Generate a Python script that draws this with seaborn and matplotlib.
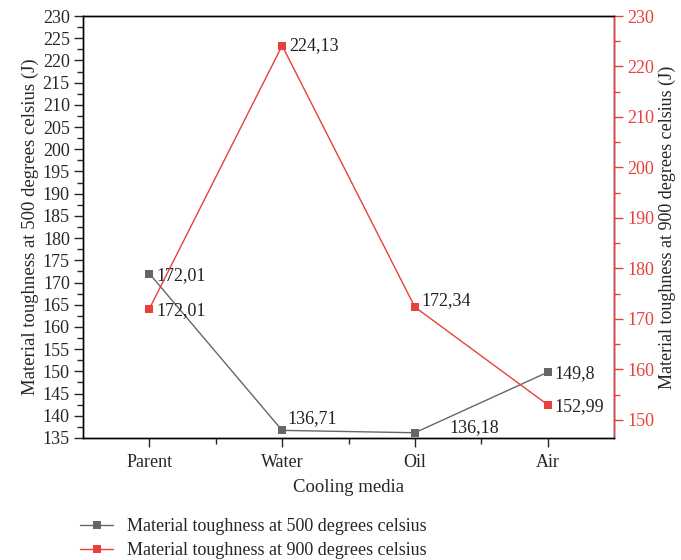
import matplotlib
matplotlib.use("Agg")
import matplotlib.pyplot as plt
import seaborn as sns
import pandas as pd
import numpy as np
from matplotlib.ticker import MultipleLocator, FixedLocator
from matplotlib.lines import Line2D

categories = ["Parent", "Water", "Oil", "Air"]
tough_500 = [172.01, 136.71, 136.18, 149.8]
tough_900 = [172.01, 224.13, 172.34, 152.99]
labels_500 = ["172,01", "136,71", "136,18", "149,8"]
labels_900 = ["172,01", "224,13", "172,34", "152,99"]

sns.set_style("ticks")
plt.rcParams["font.family"] = ["Liberation Serif", "DejaVu Serif"]
plt.rcParams["font.size"] = 13

GREY = "#666666"
RED = "#e8403a"
FS = 13

df = pd.DataFrame({"x": np.arange(len(categories)), "t500": tough_500, "t900": tough_900})

fig = plt.figure(figsize=(6.81, 5.6), dpi=100)
ax = fig.add_axes([0.1219, 0.2179, 0.7797, 0.7535])
ax2 = ax.twinx()

sns.lineplot(data=df, x="x", y="t500", ax=ax, color=GREY, marker="s", markersize=6.2,
             markeredgewidth=0, linewidth=1.0, legend=False)
sns.lineplot(data=df, x="x", y="t900", ax=ax2, color=RED, marker="s", markersize=6.2,
             markeredgewidth=0, linewidth=1.0, legend=False)

ax.set_xlim(-0.5, 3.5)
ax.set_ylim(135, 230)
ax2.set_ylim(146.4, 230)

ax.set_xticks(range(len(categories)))
ax.set_xticklabels(categories)
ax.xaxis.set_minor_locator(FixedLocator([0.5, 1.5, 2.5]))
ax.yaxis.set_major_locator(MultipleLocator(5))
ax.yaxis.set_minor_locator(MultipleLocator(2.5))
ax2.yaxis.set_major_locator(MultipleLocator(10))
ax2.yaxis.set_minor_locator(MultipleLocator(5))

ax.tick_params(axis="both", which="major", direction="out", length=6.5, width=1, labelsize=FS, pad=3)
ax.tick_params(axis="x", which="major", pad=5)
ax.tick_params(axis="both", which="minor", direction="out", length=4, width=1)
ax2.tick_params(axis="y", which="major", direction="out", length=6.5, width=1, colors=RED, labelsize=FS, pad=3)
ax2.tick_params(axis="y", which="minor", direction="out", length=4, width=1, colors=RED)

for a in (ax, ax2):
    for s in a.spines.values():
        s.set_visible(True)
        s.set_linewidth(1.0)
        s.set_color("black")
ax2.spines["right"].set_color(RED)

ax.set_xlabel("Cooling media", fontsize=13.5, labelpad=6)
ax.set_ylabel("Material toughness at 500 degrees celsius (J)", fontsize=13.5, labelpad=3)
ax2.set_ylabel("Material toughness at 900 degrees celsius (J)", fontsize=13, labelpad=3)

off500 = [(5, -1.5), (4, 8.5), (25, 3.5), (5, -1)]
off900 = [(5, -1), (5, 0), (5, 5), (5, -1)]
for i, (v, l) in enumerate(zip(tough_500, labels_500)):
    ax.annotate(l, (i, v), textcoords="offset points", xytext=off500[i], fontsize=FS,
                ha="left", va="center", color="#222222")
for i, (v, l) in enumerate(zip(tough_900, labels_900)):
    ax2.annotate(l, (i, v), textcoords="offset points", xytext=off900[i], fontsize=FS,
                 ha="left", va="center", color="#222222")

handles = [
    Line2D([], [], color=GREY, marker="s", markersize=5.5, markeredgewidth=0, linewidth=1.0),
    Line2D([], [], color=RED, marker="s", markersize=5.5, markeredgewidth=0, linewidth=1.0),
]
fig.legend(handles, ["Material toughness at 500 degrees celsius",
                     "Material toughness at 900 degrees celsius"],
           loc="upper left", bbox_to_anchor=(0.118, 0.075), frameon=False, fontsize=FS,
           handlelength=1.8, handletextpad=0.8, labelspacing=0.4, borderaxespad=0, borderpad=0)

fig.savefig("out.png", dpi=100)
